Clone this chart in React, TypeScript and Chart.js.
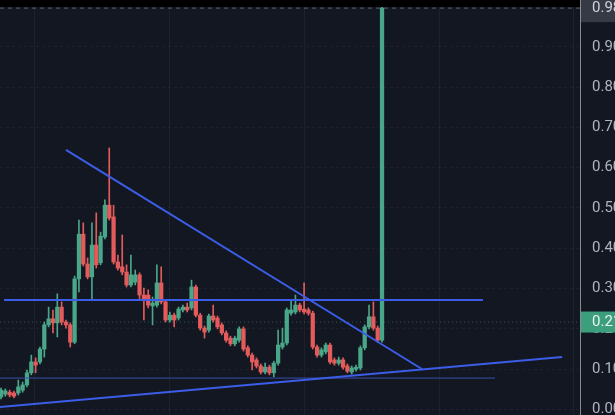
import React, { useEffect, useRef } from "react";
import { Chart, registerables } from "chart.js";

Chart.register(...registerables);

// ---- Candle data (price) ----
const opens = [
  0.031, 0.038, 0.043, 0.041, 0.041, 0.048, 0.061, 0.091, 0.118, 0.118,
  0.150, 0.210, 0.225, 0.215, 0.254, 0.217, 0.210, 0.167, 0.324, 0.435,
  0.361, 0.329, 0.408, 0.364, 0.428, 0.507, 0.478, 0.366, 0.354, 0.341,
  0.309, 0.316, 0.334, 0.284, 0.284, 0.257, 0.259, 0.314, 0.267, 0.222,
  0.234, 0.227, 0.247, 0.254, 0.252, 0.304, 0.234, 0.202, 0.197, 0.232,
  0.227, 0.210, 0.190, 0.177, 0.163, 0.172, 0.200, 0.153, 0.135, 0.123,
  0.108, 0.093, 0.105, 0.091, 0.115, 0.155, 0.165, 0.239, 0.242, 0.259,
  0.249, 0.247, 0.239, 0.155, 0.135, 0.143, 0.160, 0.123, 0.115, 0.123,
  0.108, 0.093, 0.100, 0.103, 0.153, 0.205, 0.230, 0.202, 0.172,
];
const closes = [
  0.048, 0.046, 0.036, 0.033, 0.056, 0.061, 0.091, 0.118, 0.110, 0.150,
  0.210, 0.225, 0.215, 0.254, 0.217, 0.210, 0.167, 0.324, 0.435, 0.361,
  0.329, 0.408, 0.359, 0.430, 0.507, 0.475, 0.366, 0.351, 0.341, 0.309,
  0.334, 0.334, 0.284, 0.272, 0.259, 0.264, 0.314, 0.267, 0.222, 0.234,
  0.222, 0.249, 0.254, 0.247, 0.304, 0.234, 0.202, 0.192, 0.232, 0.222,
  0.205, 0.190, 0.172, 0.163, 0.177, 0.200, 0.150, 0.135, 0.118, 0.108,
  0.093, 0.105, 0.091, 0.115, 0.160, 0.165, 0.247, 0.247, 0.259, 0.247,
  0.242, 0.239, 0.155, 0.135, 0.148, 0.160, 0.118, 0.115, 0.123, 0.105,
  0.095, 0.103, 0.105, 0.153, 0.205, 0.230, 0.202, 0.172, 0.996,
];
const highs = [
  0.053, 0.051, 0.048, 0.046, 0.073, 0.068, 0.098, 0.135, 0.128, 0.155,
  0.217, 0.254, 0.247, 0.287, 0.267, 0.222, 0.215, 0.331, 0.470, 0.463,
  0.376, 0.463, 0.488, 0.440, 0.520, 0.649, 0.507, 0.383, 0.433, 0.359,
  0.383, 0.346, 0.339, 0.301, 0.297, 0.279, 0.359, 0.354, 0.272, 0.242,
  0.239, 0.254, 0.259, 0.264, 0.321, 0.309, 0.239, 0.207, 0.237, 0.259,
  0.232, 0.215, 0.195, 0.182, 0.182, 0.205, 0.205, 0.158, 0.140, 0.128,
  0.113, 0.115, 0.110, 0.120, 0.197, 0.202, 0.252, 0.272, 0.284, 0.264,
  0.314, 0.252, 0.244, 0.160, 0.153, 0.165, 0.165, 0.128, 0.130, 0.128,
  0.113, 0.108, 0.110, 0.158, 0.210, 0.259, 0.267, 0.207, 0.999,
];
const lows = [
  0.026, 0.033, 0.031, 0.029, 0.036, 0.043, 0.056, 0.086, 0.091, 0.113,
  0.130, 0.205, 0.190, 0.180, 0.210, 0.202, 0.155, 0.163, 0.292, 0.356,
  0.324, 0.272, 0.351, 0.359, 0.423, 0.470, 0.361, 0.346, 0.334, 0.304,
  0.304, 0.309, 0.272, 0.222, 0.252, 0.210, 0.254, 0.262, 0.217, 0.217,
  0.205, 0.222, 0.242, 0.242, 0.247, 0.230, 0.197, 0.177, 0.192, 0.217,
  0.200, 0.185, 0.167, 0.158, 0.158, 0.167, 0.145, 0.130, 0.098, 0.103,
  0.088, 0.088, 0.086, 0.081, 0.110, 0.150, 0.160, 0.234, 0.237, 0.242,
  0.237, 0.234, 0.150, 0.130, 0.130, 0.138, 0.113, 0.110, 0.110, 0.100,
  0.091, 0.088, 0.095, 0.098, 0.148, 0.200, 0.197, 0.167, 0.167,
];

// ---- Drawn trend lines (bar index, price) ----
const descendingLine = [
  { x: 15.0, y: 0.644 },
  { x: 97.2, y: 0.1005 },
];
const resistanceLine = [
  { x: 0.7, y: 0.272 },
  { x: 111.3, y: 0.272 },
];
const ascendingLine = [
  { x: -0.23, y: 0.006 },
  { x: 129.6, y: 0.1303 },
];
const supportLine = [
  { x: -0.23, y: 0.078 },
  { x: 114.1, y: 0.078 },
];

// ---- Axis / labels ----
const yTicks = [0, 0.1, 0.2, 0.3, 0.4, 0.5, 0.6, 0.7, 0.8, 0.9];
const xGrid = [7.85, 39.0, 70.0, 101.2, 132.3];
const lastPrice = 0.996;
const lastPriceText = "0.98";
const currentPrice = 0.217;
const currentPriceText = "0.21";
const xMin = -0.231;
const xMax = 133.72;
const yMin = -0.01365;
const yMax = 1.0161;

const UP = "#4aa688";
const DOWN = "#e35b5b";
const LINE = "#3b5de7";
const BG = "#131722";

export default function App() {
  const ref = useRef<HTMLCanvasElement>(null);

  useEffect(() => {
    document.body.style.margin = "0";
    const idx = closes.map((_, i) => i);
    const colors = idx.map((i) => (closes[i] >= opens[i] ? UP : DOWN));

    const bgPlugin = {
      id: "bg",
      beforeDraw(chart: any) {
        const { ctx, width, height } = chart;
        ctx.save();
        ctx.fillStyle = BG;
        ctx.fillRect(0, 0, width, height);
        ctx.restore();
      },
      afterDraw(chart: any) {
        const { ctx, chartArea, width } = chart;
        const ys = chart.scales.y;
        ctx.save();
        // top dark strip
        ctx.fillStyle = "#000000";
        ctx.fillRect(0, 0, chartArea.right, 7);
        ctx.font = "15px Roboto";
        ctx.textBaseline = "middle";
        ctx.textAlign = "left";
        // current price box
        const cy = ys.getPixelForValue(currentPrice);
        ctx.fillStyle = "#3d9e7e";
        ctx.fillRect(chartArea.right + 1, cy - 10.5, width - chartArea.right, 21);
        ctx.fillStyle = "#e8f5ef";
        ctx.fillText(currentPriceText, chartArea.right + 12, cy);
        // last price box
        const ly = ys.getPixelForValue(lastPrice);
        ctx.fillStyle = "#363a45";
        ctx.fillRect(chartArea.right + 1, 0, width - chartArea.right, ly + 14);
        ctx.fillStyle = "#d1d4dc";
        ctx.fillText(lastPriceText, chartArea.right + 12, ly);
        ctx.restore();
      },
    };

    const lineDs = (data: any[], width: number, color: string, extra: any = {}) => ({
      type: "line" as const,
      data,
      borderColor: color,
      borderWidth: width,
      pointRadius: 0,
      fill: false,
      order: 0,
      ...extra,
    });

    const zeroPad = (s: any) => {
      s.paddingTop = 0;
      s.paddingBottom = 0;
      s.paddingLeft = 0;
      s.paddingRight = 0;
    };

    const chart = new Chart(ref.current!, {
      type: "bar",
      data: {
        datasets: [
          lineDs(descendingLine, 2, LINE) as any,
          lineDs(resistanceLine, 2, LINE) as any,
          lineDs(ascendingLine, 2, LINE) as any,
          lineDs(supportLine, 1, "#3a4fa8") as any,
          lineDs(
            [
              { x: xMin, y: lastPrice },
              { x: xMax, y: lastPrice },
            ],
            1,
            "rgba(150,160,170,0.55)",
            { borderDash: [4, 4], order: 3 }
          ) as any,
          lineDs(
            [
              { x: xMin, y: currentPrice },
              { x: xMax, y: currentPrice },
            ],
            1,
            "rgba(90,150,130,0.5)",
            { borderDash: [1, 3], order: 3 }
          ) as any,
          {
            type: "bar",
            data: idx.map((i) => ({ x: i, y: [opens[i], closes[i]] })),
            backgroundColor: colors,
            barThickness: 3.6,
            grouped: false,
            borderWidth: 0,
            order: 1,
          } as any,
          {
            type: "bar",
            data: idx.map((i) => ({ x: i, y: [lows[i], highs[i]] })),
            backgroundColor: colors,
            barThickness: 1,
            grouped: false,
            borderWidth: 0,
            order: 2,
          } as any,
        ],
      },
      options: {
        animation: false,
        responsive: true,
        maintainAspectRatio: false,
        layout: { padding: 0 },
        plugins: {
          legend: { display: false },
          tooltip: { enabled: false },
        },
        scales: {
          x: {
            type: "linear",
            min: xMin,
            max: xMax,
            offset: false,
            grid: { color: "rgba(255,255,255,0.045)", drawTicks: false, offset: false },
            border: { display: false },
            ticks: { display: false },
            afterBuildTicks: (s: any) => {
              s.ticks = xGrid.map((v) => ({ value: v }));
            },
            afterFit: (s: any) => {
              s.height = 0;
              zeroPad(s);
            },
          },
          y: {
            type: "linear",
            position: "right",
            min: yMin,
            max: yMax,
            grid: { color: "rgba(255,255,255,0.045)", drawTicks: false },
            border: { display: true, color: "rgba(190,190,190,0.7)", dash: [3, 3] },
            ticks: {
              color: "#b2b5be",
              font: { family: "Roboto", size: 15 },
              padding: 12,
              callback: (v: any) => Number(v).toFixed(2),
            },
            afterBuildTicks: (s: any) => {
              s.ticks = yTicks.map((v) => ({ value: v }));
            },
            afterFit: (s: any) => {
              s.width = 35;
              zeroPad(s);
            },
          },
        },
      } as any,
      plugins: [bgPlugin],
    });
    return () => chart.destroy();
  }, []);

  return (
    <div style={{ position: "fixed", left: 0, top: 0, width: 615, height: 415 }}>
      <canvas ref={ref} />
    </div>
  );
}
